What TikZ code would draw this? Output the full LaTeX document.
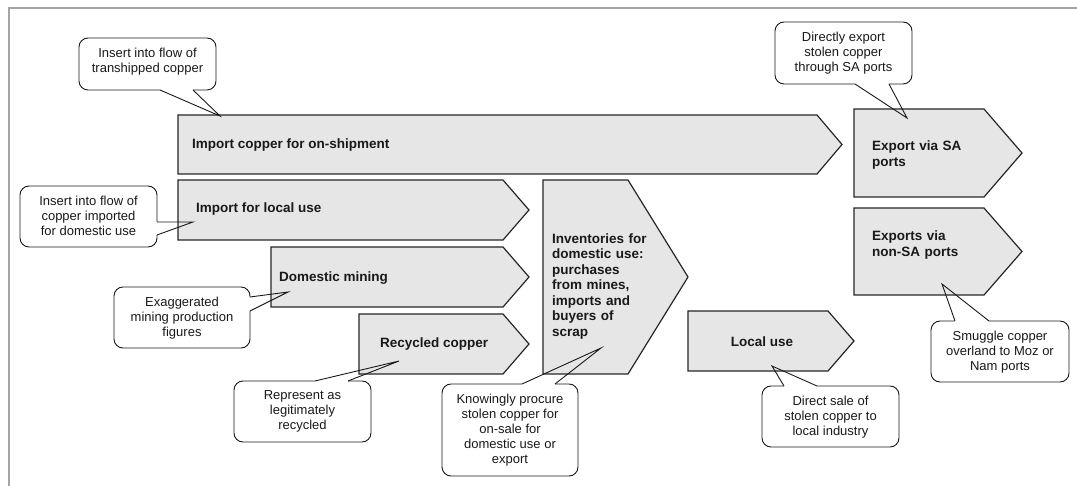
\documentclass[tikz,border=0pt]{standalone}
\usepackage{fontspec}
\setmainfont{Liberation Sans}
\definecolor{chevfill}{RGB}{230,230,230}
\definecolor{framegray}{RGB}{165,165,165}
\tikzset{
  chev/.style={draw=black!85, fill=chevfill, line width=1.2pt, line join=miter},
  chevtext/.style={font=\bfseries\fontsize{13.5}{15.5}\selectfont, inner sep=0pt, align=left, text=black!90},
  calloutbox/.style={draw=black!90, fill=white, line width=0.9pt, rounded corners=9pt, inner sep=0pt},
  callouttext/.style={font=\fontsize{13}{15}\selectfont, inner sep=0pt, align=center, anchor=north, text=black!90},
  wedgeline/.style={draw=black!90, line width=0.9pt},
  gapline/.style={draw=white, line width=2.6pt, line cap=butt},
}
\newcommand\chevshape[5]{%
  \draw[chev] (#1,#2) -- (#3,#2) -- (#4,{(#2+#5)/2}) -- (#3,#5) -- (#1,#5) -- cycle;}
\begin{document}
\begin{tikzpicture}[x=1pt,y=-1pt]
\useasboundingbox (0,0) rectangle (1077,486);
% frame
\draw[framegray, line width=1.5pt] (9,486) -- (9,8) -- (1077,8);

% chevrons
\chevshape{178}{115}{817}{842}{174}
\chevshape{178}{180}{503}{529}{240}
\chevshape{271}{247}{503}{529}{307}
\chevshape{359}{314}{503}{529}{374}
\chevshape{543}{180}{628}{688}{374}
\chevshape{688}{311}{828}{854}{371}
\chevshape{854}{109}{984}{1022}{197}
\chevshape{854}{208}{984}{1022}{295}

% callout boxes
\node[calloutbox, minimum width=137pt, minimum height=52pt] (cA) at (147.5,64) {};
\node[calloutbox, minimum width=137pt, minimum height=62pt] (cH) at (843.5,53) {};
\node[calloutbox, minimum width=137pt, minimum height=61pt] (cB) at (88.5,216.5) {};
\node[calloutbox, minimum width=136pt, minimum height=61pt] (cC) at (182,317.5) {};
\node[calloutbox, minimum width=137pt, minimum height=61pt] (cD) at (302.5,411.5) {};
\node[calloutbox, minimum width=136pt, minimum height=92pt] (cE) at (510,430) {};
\node[calloutbox, minimum width=137pt, minimum height=61pt] (cF) at (830.5,416.5) {};
\node[calloutbox, minimum width=138pt, minimum height=61pt] (cG) at (1000,351.5) {};

% pointer base points and tips
\coordinate (aA1) at (160,90);  \coordinate (aA2) at (193,90);  \coordinate (tA) at (220,116);
\coordinate (aH1) at (855,84);  \coordinate (aH2) at (889,84);  \coordinate (tH) at (907,118);
\coordinate (aB1) at (157,222); \coordinate (aB2) at (157,235); \coordinate (tB) at (193,222);
\coordinate (aC1) at (250,297); \coordinate (aC2) at (250,311); \coordinate (tC) at (288,292);
\coordinate (aD1) at (315,381); \coordinate (aD2) at (348,381); \coordinate (tD) at (399,361);
\coordinate (aE1) at (522,384); \coordinate (aE2) at (555,384); \coordinate (tE) at (601,348);
\coordinate (aF1) at (784,386); \coordinate (aF2) at (817,386); \coordinate (tF) at (772,366);
\coordinate (aG1) at (955,321); \coordinate (aG2) at (989,321); \coordinate (tG) at (942,284);

\foreach \c in {A,H,B,C,D,E,F,G}{
  \draw[gapline] (a\c1) -- (a\c2);
  \draw[wedgeline, line join=miter] (a\c1) -- (t\c) -- (a\c2);
}

% callout texts
\node[callouttext] (xA) at (147.5,47.5) {Insert into flow of\\transhipped copper};
\node[callouttext] (xH) at (843.5,31.5) {Directly export\\stolen copper\\through SA ports};
\node[callouttext] (xB) at (88.5,195.5) {Insert into flow of\\copper imported\\for domestic use};
\node[callouttext] (xC) at (182,296.5) {Exaggerated\\mining production\\figures};
\node[callouttext] (xD) at (302.5,390.5) {Represent as\\legitimately\\recycled};
\node[callouttext] (xE) at (510,393.5) {Knowingly procure\\stolen copper for\\on-sale for\\domestic use or\\export};
\node[callouttext] (xF) at (830.5,395.5) {Direct sale of\\stolen copper to\\local industry};
\node[callouttext] (xG) at (1000,330.5) {Smuggle copper\\overland to Moz or\\Nam ports};

% chevron texts
\node[chevtext, anchor=base west] (onship) at (192,149) {Import copper for on-shipment};
\node[chevtext, anchor=base west] (localimp) at (196,213) {Import for local use};
\node[chevtext, anchor=base west] (mining) at (279,282) {Domestic mining};
\node[chevtext, anchor=base west] (recycled) at (380,348) {Recycled copper};
\node[chevtext, text width=110pt, anchor=north west] (invent) at (552,233.5) {Inventories for\\domestic use:\\purchases\\from mines,\\imports and\\buyers of\\scrap};
\node[chevtext, anchor=base] (localuse) at (762,347) {Local use};
\node[chevtext, text width=110pt, anchor=north west] (expSA) at (872,141) {Export via SA\\ports};
\node[chevtext, text width=110pt, anchor=north west] (expnon) at (872,231) {Exports via\\non-SA ports};
\end{tikzpicture}
\end{document}
